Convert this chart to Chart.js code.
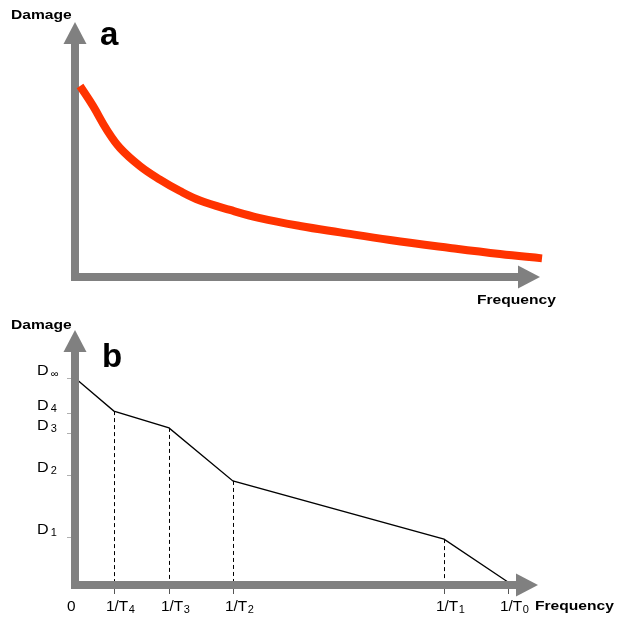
<!DOCTYPE html>
<html>
<head>
<meta charset="utf-8">
<script src="https://cdn.jsdelivr.net/npm/chart.js@4.4.1/dist/chart.umd.min.js"></script>
<style>
  html,body{margin:0;padding:0;background:#fff;}
  canvas{display:block;}
</style>
</head>
<body>
<canvas id="chartA" width="620" height="312"></canvas>
<canvas id="chartB" width="620" height="312"></canvas>
<script>
// ----- panel a: smooth damage decay (arbitrary units 0..100) -----
const freqA   = [1.08, 3.87, 6.88, 9.68, 13.98, 18.28, 22.58, 26.88, 33.33, 39.78, 48.39, 56.99, 67.74, 80.65, 91.40, 100.43];
const damageA = [74.9, 67.1, 57.6, 50.6, 43.5, 38.2, 33.7, 30.0, 26.3, 23.1, 20.0, 17.5, 14.5, 11.4, 9.0, 7.3];

// ----- panel b: piecewise-linear damage -----
const freqB   = [0, 8.4, 20.3, 34.1, 79.7, 93.5];
const damageB = [81.2, 68.2, 61.6, 40.8, 18.0, 1.2];
const freqTicks = [0, 8.4, 20.3, 34.1, 79.7, 93.5];
const freqTickLabels = [["0",""], ["1/T","4"], ["1/T","3"], ["1/T","2"], ["1/T","1"], ["1/T","0"]];
const damageTicks = [81.2, 67.5, 59.6, 43.1, 18.8];
const damageTickLabels = [["D","\u221E"], ["D","4"], ["D","3"], ["D","2"], ["D","1"]];

const FONT = '"Liberation Sans", Arial, Helvetica, sans-serif';
const AXIS_GRAY = "#808080";

// ----- helpers -----
function txt(ctx, s, x, y, font, sx){
  ctx.save();
  ctx.font = font;
  ctx.translate(x, y);
  ctx.scale(sx || 1, 1);
  ctx.textAlign = "left";
  ctx.textBaseline = "alphabetic";
  ctx.fillStyle = "#000";
  ctx.fillText(s, 0, 0);
  const w = ctx.measureText(s).width * (sx || 1);
  ctx.restore();
  return w;
}

function drawArrowAxes(chart){
  const {ctx, chartArea:{left, right, top, bottom}} = chart;
  const w = 8, head = 22, half = 11.5;
  ctx.save();
  ctx.fillStyle = AXIS_GRAY;
  ctx.fillRect(left - w/2, top + head - 1, w, bottom - top - head + 1 + w/2);
  ctx.fillRect(left - w/2, bottom - w/2, right - left - head + 1 + w/2, w);
  ctx.beginPath(); ctx.moveTo(left, top); ctx.lineTo(left - half, top + head); ctx.lineTo(left + half, top + head); ctx.closePath(); ctx.fill();
  ctx.beginPath(); ctx.moveTo(right, bottom); ctx.lineTo(right - head, bottom - half); ctx.lineTo(right - head, bottom + half); ctx.closePath(); ctx.fill();
  ctx.restore();
}

function baseOptions(pad){
  return {
    responsive:false, animation:false, devicePixelRatio:1, events:[],
    layout:{padding:pad},
    plugins:{legend:{display:false}, tooltip:{enabled:false}},
    scales:{
      x:{type:"linear", min:0, max:100, display:false},
      y:{type:"linear", min:0, max:100, display:false}
    }
  };
}

// ----- panel a -----
const panelA = {
  id:"panelA",
  beforeDatasetsDraw(chart){ drawArrowAxes(chart); },
  afterDraw(chart){
    const ctx = chart.ctx;
    txt(ctx, "Damage", 11, 19, "bold 13px " + FONT, 1.2);
    txt(ctx, "a", 100, 45, "bold 33px " + FONT, 1);
    txt(ctx, "Frequency", 477, 304, "bold 13px " + FONT, 1.2);
  }
};

new Chart(document.getElementById("chartA"), {
  type:"line",
  data:{datasets:[{
    data: freqA.map((x,i)=>({x, y:damageA[i]})),
    borderColor:"#ff3300", borderWidth:8, pointRadius:0,
    tension:0.4, borderJoinStyle:"round", clip:false, fill:false
  }]},
  options: baseOptions({left:75, right:80, top:22, bottom:35}),
  plugins:[panelA]
});

// ----- panel b -----
const panelB = {
  id:"panelB",
  beforeDatasetsDraw(chart){
    const {ctx, chartArea:{left, bottom}, scales:{x, y}} = chart;
    ctx.save();
    // y tick marks
    ctx.strokeStyle = "#b0b0b0"; ctx.lineWidth = 1;
    damageTicks.forEach(v=>{
      const py = Math.round(y.getPixelForValue(v)) + 0.5;
      ctx.beginPath(); ctx.moveTo(left - 8, py); ctx.lineTo(left - 4, py); ctx.stroke();
    });
    // x tick marks
    ctx.strokeStyle = "#555";
    freqTicks.forEach((v,i)=>{
      if(i === 0) return;
      const px = Math.round(x.getPixelForValue(v)) + 0.5;
      ctx.beginPath(); ctx.moveTo(px, bottom + 4); ctx.lineTo(px, bottom + 9); ctx.stroke();
    });
    // dashed drop lines
    ctx.strokeStyle = "#000"; ctx.setLineDash([4,3]);
    freqB.forEach((v,i)=>{
      if(i === 0 || i === freqB.length - 1) return;
      const px = Math.round(x.getPixelForValue(v)) + 0.5;
      ctx.beginPath(); ctx.moveTo(px, y.getPixelForValue(damageB[i])); ctx.lineTo(px, bottom); ctx.stroke();
    });
    ctx.restore();
  },
  afterDatasetsDraw(chart){ drawArrowAxes(chart); },
  afterDraw(chart){
    const {ctx, chartArea:{bottom}, scales:{x, y}} = chart;
    txt(ctx, "Damage", 11, 17, "bold 13px " + FONT, 1.2);
    txt(ctx, "b", 102, 55, "bold 33px " + FONT, 1);
    txt(ctx, "Frequency", 535, 298, "bold 13px " + FONT, 1.2);
    damageTicks.forEach((v,i)=>{
      const py = y.getPixelForValue(v) - 3;
      const w = txt(ctx, damageTickLabels[i][0], 37, py, "14px " + FONT, 1.15);
      txt(ctx, damageTickLabels[i][1], 37 + w + 2, py + 2, "10px " + FONT, 1.1);
    });
    freqTicks.forEach((v,i)=>{
      const px = x.getPixelForValue(v) - 8;
      const py = bottom + 26;
      const w = txt(ctx, freqTickLabels[i][0], px, py, "14px " + FONT, 1.1);
      if(freqTickLabels[i][1]) txt(ctx, freqTickLabels[i][1], px + w + 0.5, py + 2, "10px " + FONT, 1.1);
    });
  }
};

new Chart(document.getElementById("chartB"), {
  type:"line",
  data:{datasets:[{
    data: freqB.map((x,i)=>({x, y:damageB[i]})),
    borderColor:"#000", borderWidth:1.3, pointRadius:0, tension:0, clip:false, fill:false
  }]},
  options: baseOptions({left:75, right:82, top:18, bottom:39}),
  plugins:[panelB]
});
</script>
</body>
</html>
